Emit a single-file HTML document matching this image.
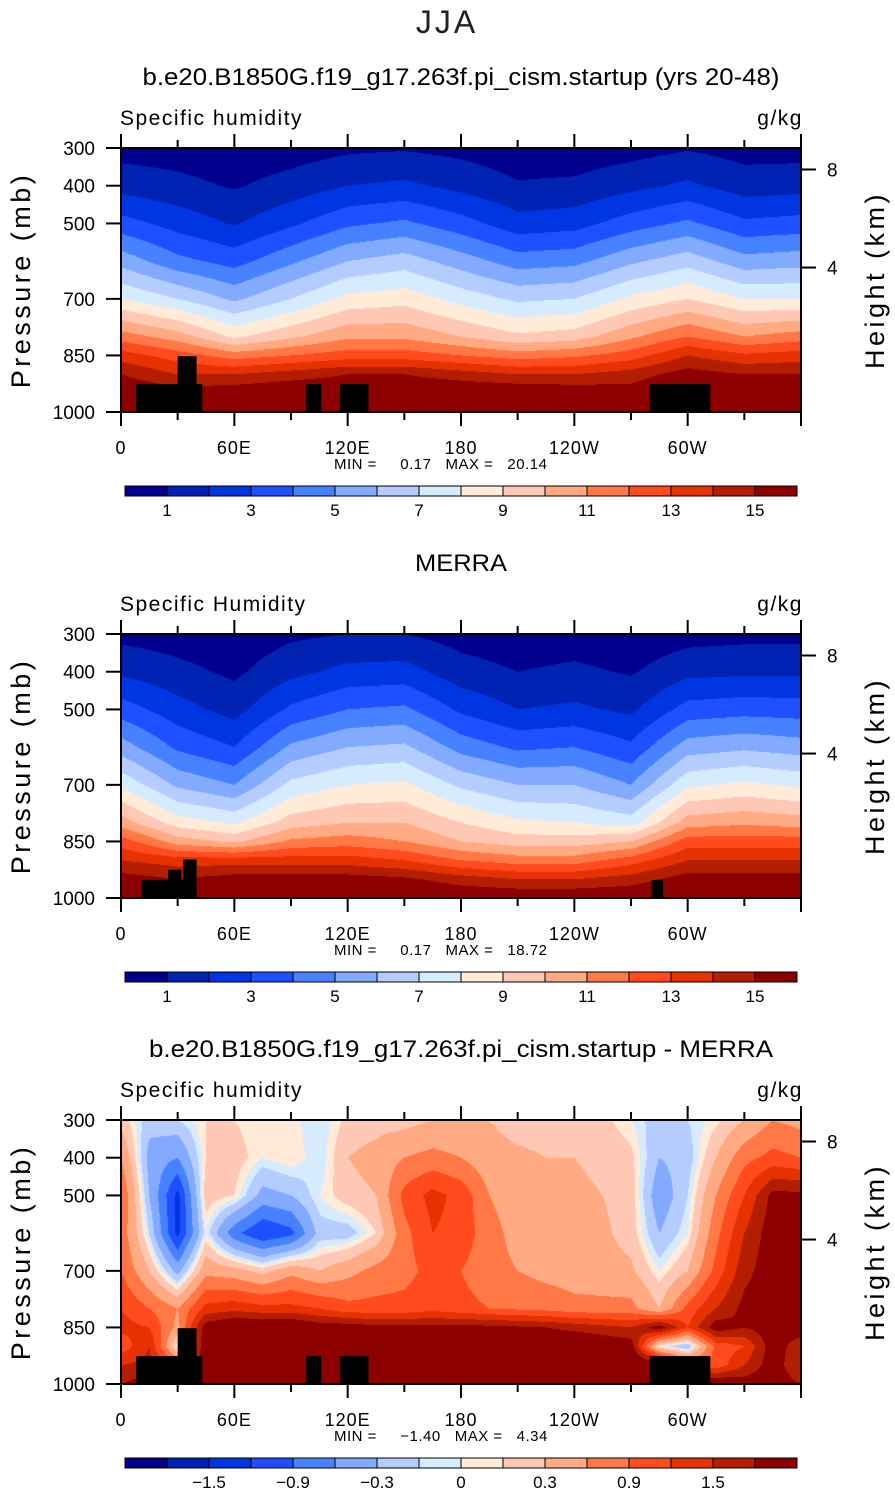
<!DOCTYPE html>
<html><head><meta charset="utf-8">
<style>
html,body{margin:0;padding:0;background:#fff;}
#wrap{position:relative;width:895px;height:1493px;overflow:hidden;font-family:"Liberation Sans",sans-serif;}
canvas{position:absolute;left:0;top:0;}
svg{position:absolute;left:0;top:0;}
.pre{white-space:pre;}
</style></head>
<body>
<div id="wrap">
<canvas id="cv" width="895" height="1493"></canvas>
<svg id="sv" width="895" height="1493" xmlns="http://www.w3.org/2000/svg"></svg>
</div>
<script>
// ---- data ----
const lonCoarse = [0,30,60,90,120,150,180,210,240,270,300,330,360];
const lonFine = [0,15,30,45,60,75,90,105,120,135,150,165,180,195,210,225,240,255,270,285,300,315,330,345,360];
const pressLevels = [300,400,500,600,700,800,850,900,950,1000];
const humidLevels = [1,2,3,4,5,6,7,8,9,10,11,12,13,14,15];
const diffLevels = [-1.8,-1.5,-1.2,-0.9,-0.6,-0.3,-0.1,0,0.1,0.3,0.6,0.9,1.2,1.5,1.8];
const humidTicks = ["1","3","5","7","9","11","13","15"];
const diffTicks = ["\u22121.5","\u22120.9","\u22120.3","0","0.3","0.9","1.5"];
const lonTickLabels = ["0","60E","120E","180","120W","60W"];
const pressTicks = [300,400,500,700,850,1000];
const heightTicks = [8,4];
const heightTickPress = [357,617];
const palette = ["#00008c","#0023b4","#0036e1","#1e50ff","#4682ff","#82aaff","#b4ccff","#d7ebff","#ffebd7","#ffc8b4","#ffaa82","#ff7846","#ff4b1e","#e63200","#b41e00","#8c0000"];

const modelQ = [
[0.6,0.5,0.3,0.5,0.8,0.9,0.7,0.4,0.4,0.6,0.9,0.6,0.6],
[1.6,1.3,0.9,1.4,2.0,2.2,1.7,1.1,1.2,1.7,2.2,1.5,1.6],
[3.4,2.6,1.9,2.8,3.8,4.2,3.4,2.4,2.6,3.5,4.2,3.2,3.4],
[5.6,4.3,3.6,4.8,6.0,6.5,5.5,4.5,4.7,5.8,6.6,5.4,5.6],
[8.0,7.0,5.8,7.0,8.3,8.6,7.6,6.8,7.0,8.2,9.0,8.0,8.0],
[11.5,10.5,8.8,9.8,10.8,10.8,10.0,9.2,9.5,10.8,12.0,11.0,11.5],
[13.5,12.5,11.5,12.0,12.5,12.5,12.0,11.5,11.8,12.5,14.0,13.2,13.5],
[15,14,14,14.5,15,15,14.5,14,14,14.5,15.5,15,15],
[16,15.5,15.8,16,16,16,16,16,15.8,15.5,16.5,16,16],
[17,16.5,17,17,17,17,17,17,17,17,17,17,17]];
const merraQ = [
[0.7,0.5,0.3,0.8,1.0,1.0,0.6,0.4,0.5,0.3,0.6,0.7,0.7],
[1.8,1.3,0.8,1.7,2.3,2.4,1.4,1.0,1.2,0.9,1.7,1.8,1.8],
[3.5,2.4,1.6,3.2,4.0,4.2,2.8,2.0,2.2,1.8,3.4,3.6,3.5],
[5.5,3.8,3.0,5.2,6.0,6.2,4.6,3.8,4.0,3.2,5.5,5.8,5.5],
[7.8,5.8,5.0,7.3,8.0,8.2,6.8,6.0,6.0,5.0,7.8,8.2,7.8],
[10.5,8.5,7.8,9.5,10.0,10.0,9.0,8.2,8.0,7.5,10.5,10.8,10.5],
[12.5,10.5,9.8,11.2,11.5,11.0,10.0,9.5,9.5,10.0,12.5,12.5,12.5],
[14,13.5,13.5,13.5,13.5,13,12,11.5,11.5,12.5,14,14,14],
[15.5,15,15.5,15.5,15.5,15.2,14.5,14,14,14.5,15.5,15.5,15.5],
[16.5,16,16.5,16.5,16.5,16.5,16,16,16,16,16.5,16.5,16.5]];
const diffQ = [
[0.2,-0.2,-0.1,0.1,0.1,0.0,0.05,-0.1,0.15,0.2,0.2,0.3,0.3,0.3,0.2,0.2,0.2,0.15,0.0,-0.2,-0.1,0.05,0.3,0.6,0.5],
[0.6,-0.4,-0.6,0.1,0.2,0.0,0.1,-0.1,0.3,0.4,0.6,0.7,0.6,0.4,0.35,0.3,0.3,0.25,0.15,-0.3,-0.2,0.3,0.8,1.0,0.9],
[0.9,-0.3,-1.3,0.2,0.1,-0.4,-0.3,0.0,0.2,0.3,1.0,1.3,1.1,0.6,0.45,0.4,0.35,0.3,0.2,-0.5,-0.1,0.6,1.2,1.9,1.9],
[0.8,-0.1,-1.3,0.0,-0.8,-1.2,-1.0,-0.2,-0.2,0.1,0.8,1.2,1.1,0.7,0.5,0.45,0.4,0.35,0.2,-0.3,0.0,0.8,1.5,2.0,2.0],
[0.9,0.3,-0.4,0.5,0.4,0.2,0.5,0.3,0.5,0.7,0.8,1.0,0.9,0.7,0.6,0.5,0.45,0.4,0.35,0.0,0.3,1.0,1.7,2.0,2.0],
[1.2,0.9,0.6,1.3,1.4,1.3,1.3,1.2,1.0,1.0,1.0,1.1,1.0,0.9,0.85,0.8,0.7,0.7,0.7,0.3,1.0,1.5,1.9,2.0,2.0],
[1.3,1.2,0.5,2.0,2.2,2.2,2.2,2.0,2.0,1.9,1.9,1.9,1.9,1.9,1.85,1.8,1.7,1.6,1.5,2.0,1.2,2.0,1.8,2.0,2.0],
[1.0,1.5,0.0,2.2,2.3,2.3,2.3,2.1,2.2,2.2,2.2,2.2,2.2,2.2,2.2,2.2,2.2,2.1,2.0,0.0,-0.3,1.0,1.2,2.0,1.6],
[1.5,1.6,1.0,2.2,2.3,2.3,2.3,2.2,2.2,2.2,2.2,2.2,2.2,2.2,2.2,2.2,2.2,2.2,2.2,2.2,1.0,1.0,1.5,2.0,1.5],
[1.8,2.0,2.0,2.2,2.3,2.3,2.3,2.2,2.2,2.2,2.2,2.2,2.2,2.2,2.2,2.2,2.2,2.2,2.2,2.2,2.2,2.2,2.0,2.0,1.8]];
// topography blocks: [lonStart, lonEnd, topPressure]
const topoModel = [[8,43,926],[30,40,852],[98,106,926],[116,131,926],[280,312,926]];
const topoMerra = [[11,40,952],[25,32,925],[33,40,898],[281,287,952]];
const panelTitles = ["b.e20.B1850G.f19_g17.263f.pi_cism.startup (yrs 20-48)","MERRA","b.e20.B1850G.f19_g17.263f.pi_cism.startup - MERRA"];
const varLabels = ["Specific humidity","Specific Humidity","Specific humidity"];
const minVals = ["0.17","0.17","\u22121.40"];
const maxVals = ["20.14","18.72","4.34"];

// ---- layout ----
const X0=121, X1=801, PH=264, tops=[148,634,1120];
const xScale = lon => X0 + (lon/360)*(X1-X0);
const yScale = (p,top) => top + (p-300)/700*PH;

const cv=document.getElementById('cv'), ctx=cv.getContext('2d');
const img=ctx.createImageData(895,1493);
function hex(c){return [parseInt(c.slice(1,3),16),parseInt(c.slice(3,5),16),parseInt(c.slice(5,7),16)];}
const rgb=palette.map(hex);
function interp(grid,lons,lon,p){
  let i=0; while(i<lons.length-2 && lon>lons[i+1]) i++;
  let j=0; while(j<pressLevels.length-2 && p>pressLevels[j+1]) j++;
  const tx=(lon-lons[i])/(lons[i+1]-lons[i]), ty=(p-pressLevels[j])/(pressLevels[j+1]-pressLevels[j]);
  const a=grid[j][i]*(1-tx)+grid[j][i+1]*tx, b=grid[j+1][i]*(1-tx)+grid[j+1][i+1]*tx;
  return a*(1-ty)+b*ty;
}
function drawField(grid,lons,levels,top){
  for(let y=top;y<top+PH;y++){
    const p=300+(y-top+0.5)/PH*700;
    for(let x=X0;x<X1;x++){
      const lon=(x-X0+0.5)/(X1-X0)*360;
      const v=interp(grid,lons,lon,p);
      let k=0; while(k<levels.length && v>=levels[k]) k++;
      const c=rgb[k], o=(y*895+x)*4;
      img.data[o]=c[0];img.data[o+1]=c[1];img.data[o+2]=c[2];img.data[o+3]=255;
    }
  }
}
drawField(modelQ,lonCoarse,humidLevels,tops[0]);
drawField(merraQ,lonCoarse,humidLevels,tops[1]);
drawField(diffQ,lonFine,diffLevels,tops[2]);
ctx.putImageData(img,0,0);

const NS="http://www.w3.org/2000/svg", sv=document.getElementById('sv');
function el(tag,attrs,parent){const e=document.createElementNS(NS,tag);for(const k in attrs)e.setAttribute(k,attrs[k]);(parent||sv).appendChild(e);return e;}
function txt(s,attrs,parent){const e=el('text',attrs,parent);e.textContent=s;return e;}

const mainTitle=txt("JJA",{x:447,y:33,'text-anchor':'middle','font-size':32,fill:'#222','letter-spacing':'3'});



const topoSets=[topoModel,topoMerra,topoModel];
for(let n=0;n<3;n++){
  const top=tops[n];
  const g=el('g',{});
  
  
  const t=txt(panelTitles[n],{x:461,y:top-63,'text-anchor':'middle','font-size':24,fill:'#000',textLength:n===1?92:(n===0?637:624),lengthAdjust:'spacingAndGlyphs'},g);
  
  
  const vl=txt(varLabels[n],{x:120,y:top-23,'font-size':21,fill:'#000','letter-spacing':'1.5'},g);
  
  
  const ul=txt("g/kg",{x:803,y:top-23,'text-anchor':'end','font-size':21,fill:'#000','letter-spacing':'1.5'},g);
  
  
  topoSets[n].forEach(b=>{
    const r=el('rect',{x:xScale(b[0]),y:yScale(b[2],top),width:xScale(b[1])-xScale(b[0]),height:yScale(1000,top)-yScale(b[2],top),fill:'#000'},g);
    
    
  });
  const fr=el('rect',{x:X0,y:top,width:X1-X0,height:PH,fill:'none',stroke:'#000','stroke-width':2},g);
  
  
  for(let lon=0;lon<=360;lon+=30){
    const x=xScale(lon), major=lon%60===0, L=major?14:8;
    el('line',{x1:x,y1:top+PH,x2:x,y2:top+PH+L,stroke:'#000','stroke-width':2},g);
    el('line',{x1:x,y1:top,x2:x,y2:top-L,stroke:'#000','stroke-width':2},g);
  }
  lonTickLabels.forEach((s,i)=>{
    const l=txt(s,{x:xScale(i*60),y:top+PH+42,'text-anchor':'middle','font-size':18,fill:'#000','letter-spacing':'1'},g);
    
    
  });
  pressTicks.forEach(p=>{
    const y=yScale(p,top);
    el('line',{x1:X0-15,y1:y,x2:X0,y2:y,stroke:'#000','stroke-width':2},g);
    const l=txt(String(p),{x:95,y:y+7,'text-anchor':'end','font-size':19,fill:'#000'},g);
    
    
  });
  heightTicks.forEach((h,i)=>{
    const y=yScale(heightTickPress[i],top);
    el('line',{x1:X1,y1:y,x2:X1+15,y2:y,stroke:'#000','stroke-width':2},g);
    const l=txt(String(h),{x:827,y:y+7,'font-size':19,fill:'#000'},g);
    
    
  });
  const ya=txt("Pressure (mb)",{x:0,y:0,'text-anchor':'middle','font-size':27,fill:'#000','letter-spacing':'3.5',transform:`translate(30,${top+PH/2}) rotate(-90)`},g);
  
  
  const ya2=txt("Height (km)",{x:0,y:0,'text-anchor':'middle','font-size':27,fill:'#000','letter-spacing':'3.5',transform:`translate(884,${top+PH/2}) rotate(-90)`},g);
  
  
  const mm=txt(`MIN =     ${minVals[n]}   MAX =   ${maxVals[n]}`,{x:334,y:top+PH+57,'font-size':15,fill:'#000','letter-spacing':'0.5','class':'pre'},g);
  
  
  const cb=el('g',{},g);
  
  
  const cy=top+338, bw=42;
  palette.forEach((c,k)=>{
    const r=el('rect',{x:125+k*bw,y:cy,width:bw,height:10,fill:c,stroke:'#000','stroke-width':1},cb);
    
    
  });
  const ticks=n===2?diffTicks:humidTicks;
  ticks.forEach((s,i)=>{
    const k=n===2?(i+1)*2:1+i*2;
    const l=txt(s,{x:125+k*bw,y:cy+30,'text-anchor':'middle','font-size':17,fill:'#000'},cb);
    
    
  });
}
</script>
</body></html>
